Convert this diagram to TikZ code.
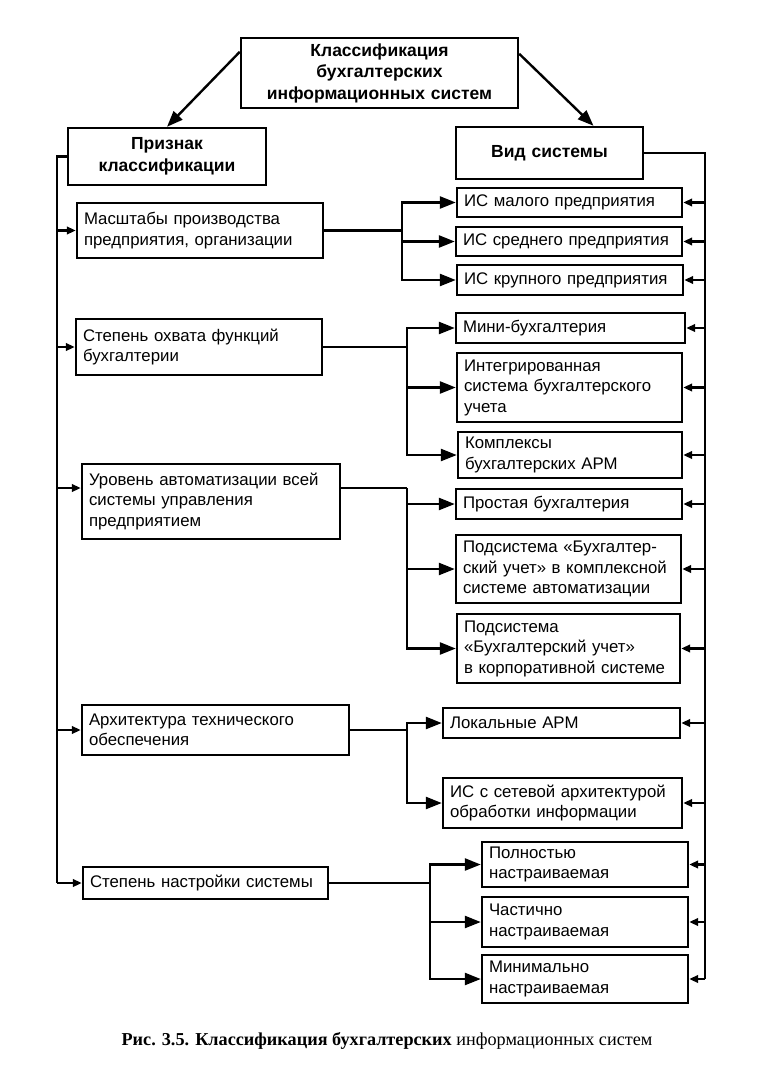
\documentclass[tikz,border=0pt]{standalone}
\usepackage{fontspec}
\setmainfont{Liberation Sans}
\newfontfamily\capfont{Liberation Serif}
\usetikzlibrary{arrows.meta}

\tikzset{
  box/.style={draw, line width=2.4pt, inner xsep=7pt, inner ysep=0pt, align=left,
    font=\fontsize{16.8}{20.5}\selectfont},
  head/.style={box, align=center, font=\fontsize{17.5}{21.5}\selectfont\bfseries},
  link/.style={line width=2.4pt},
  bigarrow/.style={link, -{Triangle[length=16pt,width=12pt]}},
  smallarrow/.style={link, -{Triangle[length=9pt,width=7.5pt]}},
}

\begin{document}
\begin{tikzpicture}[x=1pt, y=-1pt]

\path[fill=white] (0,0) rectangle (761,1089);

%headings
\node[head, text width=263pt, minimum height=70pt] (top) at (379.5,73) {Классификация\\бухгалтерских\\информационных систем};
\node[head, text width=184pt, minimum height=57pt] (sign) at (167,156.5) {Признак\\классификации};
\node[head, text width=173pt, minimum height=52pt] (kind) at (549.5,153) {Вид системы};

%classification features
\node[box, text width=232pt, minimum height=55pt] (c1) at (200,230.5) {Масштабы производства\\предприятия, организации};
\node[box, text width=232pt, minimum height=56pt] (c2) at (199,347) {Степень охвата функций\\бухгалтерии};
\node[box, text width=244pt, minimum height=75pt] (c3) at (211,501.5) {Уровень автоматизации всей\\системы управления\\предприятием};
\node[box, text width=253pt, minimum height=50pt] (c4) at (215.5,730) {Архитектура технического\\обеспечения};
\node[box, text width=231pt, minimum height=32pt] (c5) at (205.5,883) {Степень настройки системы};

%kinds of systems
\node[box, text width=211pt, minimum height=29pt] (s11) at (569.5,202.5) {ИС малого предприятия};
\node[box, text width=212pt, minimum height=29pt] (s12) at (569,241.5) {ИС среднего предприятия};
\node[box, text width=212pt, minimum height=30pt] (s13) at (570,280) {ИС крупного предприятия};

\node[box, text width=215pt, minimum height=30pt] (s21) at (570.5,328) {Мини-бухгалтерия};
\node[box, text width=211pt, minimum height=69pt] (s22) at (569.5,387.5) {Интегрированная\\система бухгалтерского\\учета};
\node[box, text width=210pt, minimum height=46pt] (s23) at (570,455) {Комплексы\\бухгалтерских АРМ};

\node[box, text width=212pt, minimum height=30pt] (s31) at (569,504) {Простая бухгалтерия};
\node[box, text width=211pt, minimum height=68pt] (s32) at (568.5,569) {Подсистема «Бухгалтер-\\ский учет» в комплексной\\системе автоматизации};
\node[box, text width=209pt, minimum height=69pt] (s33) at (568.5,648.5) {Подсистема\\«Бухгалтерский учет»\\в корпоративной системе};

\node[box, text width=223pt, minimum height=30pt] (s41) at (561.5,723) {Локальные АРМ};
\node[box, text width=225pt, minimum height=50pt] (s42) at (562.5,803) {ИС с сетевой архитектурой\\обработки информации};

\node[box, text width=192pt, minimum height=45pt] (s51) at (585,864.5) {Полностью\\настраиваемая};
\node[box, text width=192pt, minimum height=50pt] (s52) at (585,922) {Частично\\настраиваемая};
\node[box, text width=192pt, minimum height=48pt] (s53) at (585,979) {Минимально\\настраиваемая};

\node[font=\capfont\fontsize{18.2}{21}\selectfont] (caption) at (387,1041) {\textbf{Рис. 3.5. Классификация бухгалтерских} информационных систем};

%top arrows
\draw[bigarrow] ([yshift=-15pt]top.north west) -- (sign.north);
\draw[bigarrow] ([yshift=-17pt]top.north east) -- ([xshift=44pt]kind.north);

%left trunk
\coordinate (lx) at (57,0);
\coordinate (c3in) at ([yshift=13.5pt]c3.west);
\coordinate (c3out) at ([yshift=13.5pt]c3.east);
\draw[link] (sign.west) -| (c5.west -| lx);
\foreach \c in {c1,c2,c4,c5}
  \draw[smallarrow] (\c.west -| lx) -- (\c.west);
\draw[smallarrow] (c3in -| lx) -- (c3in);

%right trunk
\coordinate (rx) at (705,0);
\draw[link] (kind.east) -| (s53.east -| rx);
\foreach \s in {s11,s12,s13,s21,s22,s23,s31,s32,s33,s41,s42,s51,s52,s53}
  \draw[smallarrow] (\s.east -| rx) -- (\s.east);

%branches
\coordinate (j1) at (402,0);
\coordinate (j2) at (407,0);
\coordinate (j5) at (430,0);

\draw[link] (c1.east) -- (c1.east -| j1);
\foreach \s in {s11,s12,s13}
  \draw[bigarrow] (c1.east -| j1) |- (\s.west);

\draw[link] (c2.east) -- (c2.east -| j2);
\foreach \s in {s21,s22,s23}
  \draw[bigarrow] (c2.east -| j2) |- (\s.west);

\draw[link] (c3out) -- (c3out -| j2);
\foreach \s in {s31,s32,s33}
  \draw[bigarrow] (c3out -| j2) |- (\s.west);

\draw[link] (c4.east) -- (c4.east -| j2);
\foreach \s in {s41,s42}
  \draw[bigarrow] (c4.east -| j2) |- (\s.west);

\draw[link] (c5.east) -- (c5.east -| j5);
\foreach \s in {s51,s52,s53}
  \draw[bigarrow] (c5.east -| j5) |- (\s.west);

\end{tikzpicture}
\end{document}
